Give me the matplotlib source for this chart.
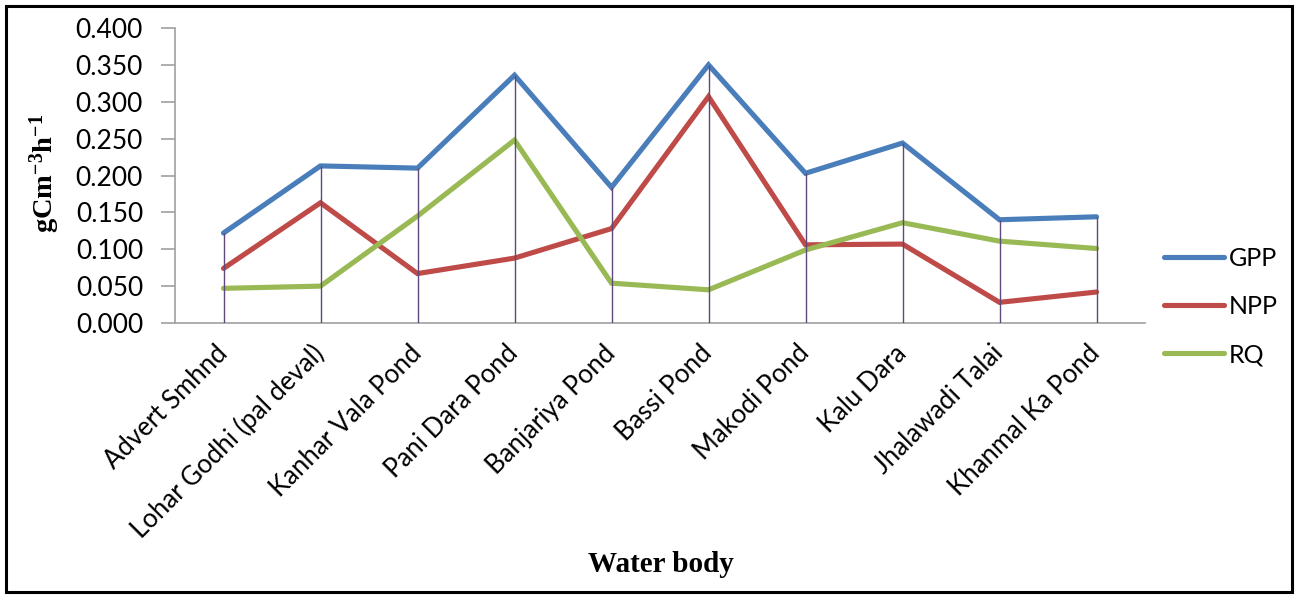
import matplotlib
matplotlib.use("Agg")
import matplotlib.pyplot as plt
from matplotlib.patches import Rectangle

water_bodies = ["Advert Smhnd", "Lohar Godhi (pal deval)", "Kanhar Vala Pond",
                "Pani Dara Pond", "Banjariya Pond", "Bassi Pond", "Makodi Pond",
                "Kalu Dara", "Jhalawadi Talai", "Khanmal Ka Pond"]
gpp = [0.122, 0.213, 0.210, 0.336, 0.184, 0.350, 0.203, 0.244, 0.140, 0.144]
npp = [0.074, 0.163, 0.067, 0.088, 0.128, 0.307, 0.106, 0.107, 0.028, 0.042]
rq  = [0.047, 0.050, 0.145, 0.248, 0.054, 0.045, 0.099, 0.136, 0.111, 0.101]
yticks = [0.0, 0.05, 0.10, 0.15, 0.20, 0.25, 0.30, 0.35, 0.40]

SERIES = [("GPP", gpp, "#4A7EBB"), ("NPP", npp, "#BE4B48"), ("RQ", rq, "#98B954")]
AXIS_GRAY = "#A0A0A0"
TICK_FONT = "Lato"

plt.rcParams["mathtext.default"] = "regular"

W, H = 1295, 595
fig = plt.figure(figsize=(W / 100, H / 100), dpi=100)
ax = fig.add_axes([175 / W, 1 - 323 / H, (1145 - 175) / W, (323 - 28) / H])

x = list(range(len(water_bodies)))
for name, vals, color in SERIES:
    ax.plot(x, vals, color=color, lw=3.7, label=name, solid_capstyle="round",
            solid_joinstyle="miter", zorder=3)

# Excel-style drop lines from the highest point down to the axis
tops = [max(a, b, c) for a, b, c in zip(gpp, npp, rq)]
ax.vlines(x, 0, tops, color="#5F497A", lw=1.0, zorder=4)

ax.set_xlim(-0.5, len(water_bodies) - 0.5)
ax.set_ylim(0, 0.4)
ax.set_yticks(yticks)
ax.set_yticklabels([f"{v:.3f}" for v in yticks], fontsize=19, family=TICK_FONT)
ax.set_xticks(x)
ax.set_xticklabels(water_bodies, rotation=45, ha="right", va="center",
                   rotation_mode="anchor", fontsize=18.5, family=TICK_FONT)

for side in ("top", "right"):
    ax.spines[side].set_visible(False)
for side in ("left", "bottom"):
    ax.spines[side].set_color(AXIS_GRAY)
    ax.spines[side].set_linewidth(1.2)
ax.tick_params(axis="y", direction="out", length=10, width=1.2, color=AXIS_GRAY, pad=13)
ax.tick_params(axis="x", length=0, pad=19)

fig.text(45 / W, 1 - 173 / H, r"gCm$^{-3}$h$^{-1}$", rotation=90, ha="center",
         va="center", fontsize=20.5, fontweight="bold", family="Liberation Serif")
fig.text(661 / W, 1 - 564 / H, "Water body", ha="center", va="center",
         fontsize=21, fontweight="bold", family="Liberation Serif")

ax.legend(loc="upper left", bbox_to_anchor=(1164 / W, 1 - 247 / H),
          bbox_transform=fig.transFigure, frameon=False, borderpad=0,
          borderaxespad=0, handlelength=2.4, handletextpad=0.2,
          labelspacing=1.0, prop={"family": TICK_FONT, "size": 18})

fig.patches.append(Rectangle((6 / W, 3 / H), (1292 - 6) / W, (589 - 3) / H,
                             transform=fig.transFigure, fill=False,
                             edgecolor="black", lw=2.2))

fig.savefig("out.png", dpi=100)
